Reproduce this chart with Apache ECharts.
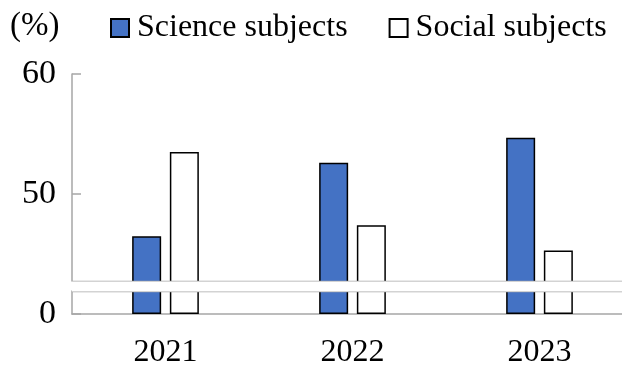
<!DOCTYPE html>
<html>
<head>
<meta charset="utf-8">
<script src="https://cdn.jsdelivr.net/npm/echarts@6/dist/echarts.min.js"></script>
<style>
  html, body { margin: 0; padding: 0; background: #fff; }
  #chart { width: 622px; height: 365px; }
</style>
</head>
<body>
<div id="chart"></div>
<script>
// Share of students by subject group, per year (percent)
const years = ['2021', '2022', '2023'];
const science = [46.5, 52.6, 54.7];
const social = [53.5, 47.4, 45.3];
const seriesNames = ['Science subjects', 'Social subjects'];
const unitLabel = '(%)';
const yTicks = [0, 50, 60];
// value range skipped by the broken y axis
const breakRange = [1.9, 42.75];

const serif = '"Liberation Serif", "Times New Roman", serif';
const gray = '#A6A6A6';

const chart = echarts.init(document.getElementById('chart'), null, { renderer: 'canvas' });

chart.setOption({
  animation: false,
  backgroundColor: '#fff',
  title: {
    text: unitLabel,
    left: 10,
    top: 10,
    padding: 0,
    textStyle: { fontFamily: serif, fontSize: 33, fontWeight: 'normal', color: '#000' }
  },
  legend: {
    data: seriesNames,
    left: 110,
    top: 12,
    padding: 0,
    icon: 'rect',
    itemWidth: 18,
    itemHeight: 18,
    itemGap: 41,
    textStyle: { fontFamily: serif, fontSize: 32, color: '#000', padding: [0, 0, 0, 3] }
  },
  grid: { left: 72, right: -11, top: 74, bottom: 51, outerBoundsMode: 'none', containLabel: false },
  xAxis: {
    type: 'category',
    data: years,
    axisLine: { show: true, lineStyle: { color: gray, width: 1.5 } },
    axisTick: { show: false },
    axisLabel: { fontFamily: serif, fontSize: 32, color: '#000', margin: 23 }
  },
  yAxis: {
    type: 'value',
    min: 0,
    max: 60,
    interval: 10,
    breaks: [{ start: breakRange[0], end: breakRange[1], gap: 0.8333 }],
    breakArea: {
      show: true,
      itemStyle: { color: '#fff', borderColor: gray, borderWidth: 1.5, borderType: 'solid', opacity: 1 },
      zigzagAmplitude: 0,
      zigzagZ: 100,
      expandOnClick: false
    },
    axisLine: { show: true, lineStyle: { color: gray, width: 1.5 } },
    axisTick: { show: true, inside: true, length: 9, customValues: yTicks, lineStyle: { color: gray, width: 1.5 } },
    splitLine: { show: false },
    axisLabel: {
      fontFamily: serif,
      fontSize: 34,
      color: '#000',
      margin: 16,
      padding: [3, 0, 0, 0],
      customValues: yTicks,
      formatter: v => String(v)
    }
  },
  series: [
    {
      name: seriesNames[0],
      type: 'bar',
      data: science,
      barWidth: 29,
      barGap: '30%',
      itemStyle: { color: '#4472C4', borderColor: '#000', borderWidth: 1.5 }
    },
    {
      name: seriesNames[1],
      type: 'bar',
      data: social,
      barWidth: 29,
      barGap: '30%',
      itemStyle: { color: '#fff', borderColor: '#000', borderWidth: 1.5 }
    }
  ]
});
</script>
</body>
</html>
